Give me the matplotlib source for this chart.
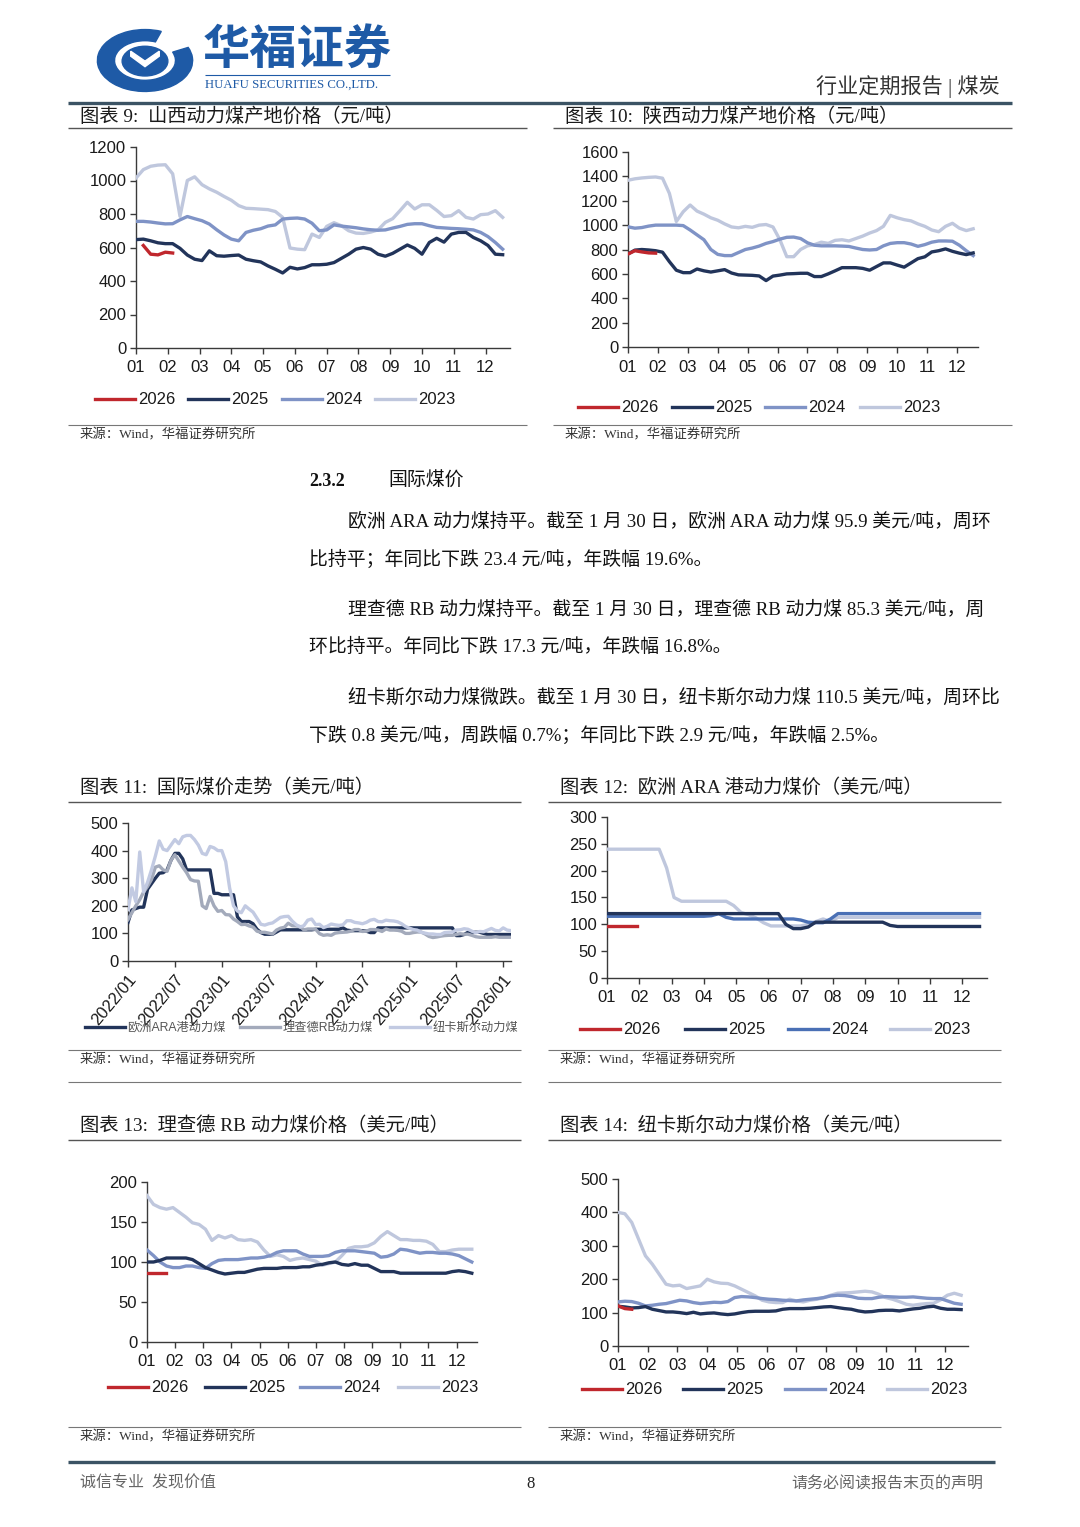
import numpy as np
import matplotlib
matplotlib.use('Agg')
import matplotlib.pyplot as plt
from matplotlib.legend import Legend
from matplotlib.patches import Wedge, Circle, Polygon
from matplotlib.lines import Line2D

W, H = 1080, 1527
plt.rcParams['font.family'] = ['Liberation Sans', 'Noto Sans CJK SC']
SERIF = ['Liberation Serif', 'Noto Sans CJK SC']
CJK = ['Noto Sans CJK SC', 'Liberation Sans']

# ---------------- data ----------------
MONTHS = ['01', '02', '03', '04', '05', '06', '07', '08', '09', '10', '11', '12']
YEARS = ['2026', '2025', '2024', '2023']

# Chart 9: Shanxi thermal coal pit-mouth price (weekly, CNY/t)
sx_2026 = [612, 560, 556, 572, 567]
sx_2025 = [647, 650, 640, 628, 623, 623, 595, 555, 530, 522, 580, 551, 548, 552, 555, 530, 521, 514, 490, 470,
           448, 482, 472, 480, 497, 497, 500, 510, 535, 560, 590, 600, 590, 560, 548, 565, 590, 615, 595, 560,
           630, 655, 632, 680, 690, 690, 660, 640, 612, 560, 557]
sx_2024 = [756, 756, 752, 746, 741, 742, 765, 785, 772, 760, 740, 706, 675, 650, 640, 690, 703, 712, 728, 735,
           770, 774, 776, 770, 745, 700, 705, 735, 728, 723, 718, 711, 706, 703, 705, 716, 726, 738, 742, 742,
           730, 720, 717, 714, 712, 709, 705, 690, 665, 630, 590]
sx_2023 = [1015, 1065, 1085, 1092, 1094, 1040, 786, 1000, 1022, 975, 950, 930, 905, 882, 850, 834, 832, 829, 826, 815,
           780, 597, 590, 587, 680, 660, 726, 748, 730, 700, 686, 684, 692, 705, 750, 772, 820, 870, 830, 855,
           855, 822, 785, 790, 820, 780, 770, 796, 800, 820, 780]

# Chart 10: Shaanxi thermal coal pit-mouth price
shx_2026 = [763, 790, 780, 772, 770]
shx_2025 = [763, 795, 800, 796, 790, 778, 700, 630, 610, 610, 640, 625, 615, 625, 635, 607, 592, 590, 588, 583,
            545, 582, 590, 600, 602, 605, 605, 578, 578, 600, 625, 651, 651, 651, 645, 630, 660, 690, 690, 672,
            655, 690, 725, 740, 780, 790, 805, 785, 770, 758, 772]
shx_2024 = [986, 975, 980, 992, 1000, 1000, 1000, 1000, 996, 960, 920, 880, 800, 760, 750, 750, 775, 800, 812, 828,
            850, 865, 885, 900, 902, 890, 855, 835, 830, 830, 830, 828, 825, 812, 800, 796, 800, 830, 850, 856,
            856, 845, 826, 840, 860, 870, 870, 868, 835, 790, 750]
shx_2023 = [1368, 1380, 1387, 1392, 1395, 1385, 1260, 1030, 1110, 1165, 1115, 1090, 1060, 1040, 1010, 985, 978, 990,
            982, 1000, 1005, 985, 880, 741, 741, 800, 830, 840, 860, 850, 875, 880, 870, 890, 910, 935, 955, 990,
            1080, 1060, 1045, 1035, 1010, 990, 960, 946, 990, 1015, 975, 955, 970]

# Chart 11: international coal prices, semi-monthly from 2022/01 (USD/t)
INTL_TICKS = ['2022/01', '2022/07', '2023/01', '2023/07', '2024/01', '2024/07', '2025/01', '2025/07', '2026/01']
INTL_NAMES = ['欧洲ARA港动力煤', '理查德RB动力煤', '纽卡斯尔动力煤']
ara = ([140, 185, 190, 195, 195, 260, 280, 300, 318, 320, 330, 365, 390, 390, 370, 330, 330, 330, 330, 330, 330, 330, 245, 245]
       + [240, 240, 240, 240, 160, 143, 143, 143, 135, 115, 103, 97, 97, 97, 105, 113, 113, 113, 113, 113, 113, 113, 113, 113]
       + [115, 115, 115, 115, 115, 115, 115, 120, 112, 110, 110, 110, 110, 108, 103, 103, 120, 120, 120, 120, 120, 120, 120, 120]
       + [120, 120, 120, 120, 120, 120, 120, 120, 120, 120, 120, 120, 92, 92, 96, 104, 104, 104, 104, 100, 96, 96, 96, 96]
       + [96, 96, 96])
rb = ([150, 175, 200, 222, 250, 270, 295, 340, 345, 330, 325, 365, 385, 362, 340, 320, 295, 290, 289, 200, 190, 234, 200, 180]
      + [183, 168, 167, 152, 143, 132, 133, 127, 123, 108, 104, 104, 101, 98, 112, 119, 122, 137, 128, 127, 125, 113, 116, 116]
      + [115, 99, 93, 95, 93, 101, 103, 104, 105, 108, 114, 114, 107, 108, 114, 114, 112, 107, 116, 112, 112, 111, 108, 100]
      + [100, 103, 105, 105, 98, 89, 85, 87, 90, 92, 93, 93, 96, 99, 97, 97, 93, 88, 86, 86, 86, 86, 88, 86]
      + [86, 86, 86])
ncs = ([186, 265, 215, 395, 250, 285, 330, 380, 435, 405, 400, 420, 440, 425, 450, 455, 455, 440, 420, 390, 385, 415, 410, 400]
       + [400, 360, 265, 200, 181, 175, 200, 188, 177, 155, 133, 130, 135, 138, 148, 158, 161, 162, 145, 132, 123, 128, 148, 152]
       + [132, 133, 121, 126, 134, 131, 129, 131, 146, 146, 140, 138, 135, 140, 148, 151, 143, 142, 148, 146, 145, 142, 135, 125]
       + [119, 114, 112, 104, 101, 98, 98, 96, 96, 103, 104, 105, 112, 113, 117, 115, 108, 102, 107, 106, 112, 118, 111, 109]
       + [120, 112, 110])

# Chart 12: ARA (weekly)
ara_2026 = [96] * 5
ara_2025 = [120] * 24 + [100, 92, 92, 95] + [104] * 10 + [98] + [96] * 12
ara_2024 = [115] * 14 + [116, 120, 113] + [110] * 9 + [108, 104, 103, 103, 110] + [120] * 20
ara_2023 = [240] * 8 + [205, 150] + [143] * 7 + [135, 122, 118, 112, 103] + [97] * 5 + [100, 105, 110, 105] + [113] * 20

# Chart 13: Richards Bay (weekly)
rb_2026 = [86, 86, 86, 86]
rb_2025 = [100, 100, 102, 105, 105, 105, 105, 103, 98, 93, 90, 87, 85, 86, 87, 87, 89, 91, 92, 92,
           92, 93, 93, 93, 94, 94, 96, 97, 99, 100, 97, 96, 98, 96, 96, 92, 88, 88, 88, 86,
           86, 86, 86, 86, 86, 86, 86, 88, 89, 88, 86]
rb_2024 = [115, 108, 100, 95, 93, 93, 95, 95, 93, 92, 98, 102, 103, 103, 103, 104, 105, 105, 106, 108,
           112, 114, 114, 114, 110, 107, 107, 107, 108, 112, 114, 114, 114, 113, 112, 111, 106, 107, 110, 116,
           115, 113, 111, 112, 112, 111, 111, 110, 108, 104, 100]
rb_2023 = [183, 172, 168, 166, 168, 162, 156, 149, 147, 141, 127, 133, 130, 133, 128, 127, 128, 125, 115, 107,
           109, 107, 102, 104, 105, 103, 101, 96, 98, 100, 108, 117, 119, 119, 120, 124, 132, 138, 133, 128,
           128, 127, 127, 126, 122, 113, 113, 115, 116, 116, 116]

# Chart 14: Newcastle (weekly)
nc_2026 = [120, 112, 110]
nc_2025 = [119, 117, 114, 115, 118, 110, 106, 102, 102, 100, 97, 101, 96, 98, 99, 96, 94, 96, 100, 103,
           104, 104, 104, 105, 110, 112, 112, 112, 113, 115, 117, 118, 115, 112, 110, 105, 102, 103, 106, 107,
           107, 105, 108, 111, 113, 117, 119, 113, 110, 110, 109]
nc_2024 = [132, 134, 133, 128, 120, 122, 125, 127, 132, 137, 135, 130, 127, 129, 131, 130, 133, 145, 148, 147,
           145, 142, 140, 139, 137, 136, 135, 138, 140, 142, 145, 150, 152, 151, 148, 143, 142, 142, 146, 148,
           147, 146, 146, 147, 145, 143, 142, 142, 135, 128, 125]
nc_2023 = [400, 396, 370, 320, 270, 245, 215, 185, 180, 182, 172, 176, 180, 200, 192, 188, 187, 180, 170, 160,
           150, 137, 132, 130, 130, 140, 135, 132, 137, 140, 145, 152, 158, 159, 160, 162, 164, 162, 155, 145,
           140, 133, 125, 122, 125, 127, 128, 138, 152, 158, 152]

# ---------------- styles ----------------
C26, C25, C24, C23 = '#C0272D', '#22345A', '#7F93C6', '#BFC7DD'
C24B = '#4A70B5'
LW = 2.4
TICKFS = 12
LEGFS = 12

fig = plt.figure(figsize=(W / 100, H / 100), dpi=100)


def fx(x):
    return x / W


def fy(y):
    return 1 - y / H


def px_axes(l, t, r, b):
    return fig.add_axes([l / W, 1 - b / H, (r - l) / W, (b - t) / H])


def hline(x0, x1, y, lw, color):
    fig.add_artist(Line2D([fx(x0), fx(x1)], [fy(y), fy(y)], transform=fig.transFigure,
                          lw=lw, color=color, solid_capstyle='butt'))


def ftext(x, y, s, **kw):
    kw.setdefault('va', 'center')
    fig.text(fx(x), fy(y), s, **kw)


def style(ax, ymax, ystep, xmax):
    for s in ['top', 'right']:
        ax.spines[s].set_visible(False)
    for s in ['left', 'bottom']:
        ax.spines[s].set_color('#3a3a3a')
        ax.spines[s].set_linewidth(1.0)
    ax.set_ylim(0, ymax)
    ax.set_yticks(np.arange(0, ymax + 1, ystep))
    ax.set_xlim(0, xmax)
    ax.tick_params(direction='out', length=4, width=1, color='#3a3a3a',
                   labelsize=TICKFS, labelcolor='#1a1a1a', pad=3)
    ax.patch.set_alpha(0)


def add_leg(ax, handle, label, x, y, fs=LEGFS, hl_px=40, color='#1a1a1a', family=None):
    prop = {'size': fs}
    if family:
        prop['family'] = family
    fs_px = fs * 100 / 72
    leg = Legend(ax, [handle], [label], loc='center left', bbox_to_anchor=(fx(x), fy(y)),
                 bbox_transform=fig.transFigure, frameon=False, borderpad=0, borderaxespad=0,
                 handlelength=hl_px / fs_px, handletextpad=0.2, prop=prop)
    for t in leg.get_texts():
        t.set_color(color)
    ax.add_artist(leg)


def seasonal(box, series, ymax, ystep, xmax, leg_y, leg_x, c24=C24, start26=0):
    ax = px_axes(*box)
    cols = [C26, C25, c24, C23]
    lines = {}
    for name, vals, col in reversed(list(zip(YEARS, series, cols))):
        st = start26 if name == '2026' else 0
        x = np.arange(st, st + len(vals))
        ln, = ax.plot(x, vals, color=col, lw=LW, solid_joinstyle='round', zorder=3)
        lines[name] = ln
    style(ax, ymax, ystep, xmax)
    ax.set_xticks(np.arange(12) * 52 / 12)
    ax.set_xticklabels(MONTHS)
    ax.tick_params(axis='x', pad=5)
    for name, lx in zip(YEARS, leg_x):
        add_leg(ax, lines[name], name, lx, leg_y)
    return ax


# ---------------- header ----------------
BLUE = '#1E5AA6'
axl = px_axes(95, 28, 195, 93)
axl.set_xlim(-1.05, 1.05)
axl.set_ylim(-1.05, 1.05)
axl.axis('off')
axl.add_patch(Wedge((0, 0), 1.0, 70, 385, width=0.36, color=BLUE))
axl.add_patch(Circle((0, -0.02), 0.48, color=BLUE))
axl.add_patch(Polygon([(-0.3, 0.14), (0, -0.2), (0.3, 0.14), (0.3, 0.3), (0, -0.02), (-0.3, 0.3)],
                      closed=True, color='white'))
ftext(203, 50, '华福证券', fontsize=34, fontweight='bold', color=BLUE, family=CJK)
hline(205, 390, 75, 0.8, BLUE)
ftext(205, 85, 'HUAFU SECURITIES CO.,LTD.', fontsize=9.2, color=BLUE, family=['Liberation Serif'])
ftext(1000, 87, '行业定期报告 | 煤炭', fontsize=15.2, color='#333333', ha='right', family=SERIF)
hline(68, 1012, 103, 2.4, '#3B5364')

TCOL = '#1a1a1a'
LINEC = '#555555'
TITLEFS = 13.9
SRCFS = 9.6

# ---------------- row 1 ----------------
ftext(80, 116, '图表 9:  山西动力煤产地价格（元/吨）', fontsize=TITLEFS, color=TCOL, family=SERIF)
ftext(565, 116, '图表 10:  陕西动力煤产地价格（元/吨）', fontsize=TITLEFS, color=TCOL, family=SERIF)
hline(68, 527, 128, 1.0, LINEC)
hline(553, 1012, 128, 1.0, LINEC)

seasonal((136, 147, 510, 348), [sx_2026, sx_2025, sx_2024, sx_2023], 1200, 200, 51.0,
         400, [95, 188, 282, 375], start26=1)
seasonal((628, 152, 978, 347), [shx_2026, shx_2025, shx_2024, shx_2023], 1600, 200, 50.7,
         408, [578, 672, 765, 860])

hline(68, 527, 425, 0.8, '#777777')
hline(553, 1012, 425, 0.8, '#777777')
ftext(80, 435, '来源：Wind，华福证券研究所', fontsize=SRCFS, color='#333333', family=SERIF)
ftext(565, 435, '来源：Wind，华福证券研究所', fontsize=SRCFS, color='#333333', family=SERIF)

# ---------------- text section ----------------
BODY = dict(fontsize=13.6, color='#111111', family=SERIF)
ftext(309, 481, '2.3.2', fontsize=13, fontweight='bold', color='#111111', family=['Liberation Serif'])
ftext(388, 481, '国际煤价', **BODY)
ftext(348, 522, '欧洲 ARA 动力煤持平。截至 1 月 30 日，欧洲 ARA 动力煤 95.9 美元/吨，周环', **BODY)
ftext(309, 559, '比持平；年同比下跌 23.4 元/吨，年跌幅 19.6%。', **BODY)
ftext(348, 610, '理查德 RB 动力煤持平。截至 1 月 30 日，理查德 RB 动力煤 85.3 美元/吨，周', **BODY)
ftext(309, 647, '环比持平。年同比下跌 17.3 元/吨，年跌幅 16.8%。', **BODY)
ftext(348, 698, '纽卡斯尔动力煤微跌。截至 1 月 30 日，纽卡斯尔动力煤 110.5 美元/吨，周环比', **BODY)
ftext(309, 736, '下跌 0.8 美元/吨，周跌幅 0.7%；年同比下跌 2.9 元/吨，年跌幅 2.5%。', **BODY)

# ---------------- row 2 ----------------
ftext(80, 787, '图表 11:  国际煤价走势（美元/吨）', fontsize=TITLEFS, color=TCOL, family=SERIF)
ftext(560, 787, '图表 12:  欧洲 ARA 港动力煤价（美元/吨）', fontsize=TITLEFS, color=TCOL, family=SERIF)
hline(68, 521, 802, 1.0, LINEC)
hline(548, 1001, 802, 1.0, LINEC)

ax11 = px_axes(128, 823, 511, 961)
l_ara, = ax11.plot(np.arange(len(ara)) * 0.5, ara, color='#22345A', lw=LW, zorder=3)
l_rb, = ax11.plot(np.arange(len(rb)) * 0.5, rb, color='#A3AABB', lw=LW, zorder=3)
l_nc, = ax11.plot(np.arange(len(ncs)) * 0.5, ncs, color='#C2CAE2', lw=LW, zorder=3)
style(ax11, 500, 100, 49)
ax11.set_xticks(np.arange(0, 49, 6))
ax11.set_xticklabels(INTL_TICKS, rotation=50, ha='right', rotation_mode='anchor')
ax11.tick_params(axis='x', pad=4)
for h, lab, lx in zip([l_ara, l_rb, l_nc], INTL_NAMES, [85, 240, 390]):
    add_leg(ax11, h, lab, lx, 1028, fs=8.8, color='#555555')

seasonal((607, 817, 987, 978), [ara_2026, ara_2025, ara_2024, ara_2023], 300, 50, 51.0,
         1030, [580, 685, 788, 890], c24=C24B)

hline(68, 521, 1050, 0.8, '#777777')
hline(548, 1001, 1050, 0.8, '#777777')
ftext(80, 1060, '来源：Wind，华福证券研究所', fontsize=SRCFS, color='#333333', family=SERIF)
ftext(560, 1060, '来源：Wind，华福证券研究所', fontsize=SRCFS, color='#333333', family=SERIF)
hline(68, 521, 1082, 0.8, '#777777')
hline(548, 1001, 1082, 0.8, '#777777')

# ---------------- row 3 ----------------
ftext(80, 1125, '图表 13:  理查德 RB 动力煤价格（美元/吨）', fontsize=TITLEFS, color=TCOL, family=SERIF)
ftext(560, 1125, '图表 14:  纽卡斯尔动力煤价格（美元/吨）', fontsize=TITLEFS, color=TCOL, family=SERIF)
hline(68, 521, 1140, 1.0, LINEC)
hline(548, 1001, 1140, 1.0, LINEC)

seasonal((147, 1182, 477, 1342), [rb_2026, rb_2025, rb_2024, rb_2023], 200, 50, 50.8,
         1388, [108, 205, 300, 398])
seasonal((618, 1179, 968, 1346), [nc_2026, nc_2025, nc_2024, nc_2023], 500, 100, 51.0,
         1390, [582, 683, 785, 887])

hline(68, 521, 1427, 0.8, '#777777')
hline(548, 1001, 1427, 0.8, '#777777')
ftext(80, 1437, '来源：Wind，华福证券研究所', fontsize=SRCFS, color='#333333', family=SERIF)
ftext(560, 1437, '来源：Wind，华福证券研究所', fontsize=SRCFS, color='#333333', family=SERIF)

# ---------------- footer ----------------
hline(68, 995, 1462, 2.4, '#3B5364')
ftext(80, 1484, '诚信专业  发现价值', fontsize=11.5, color='#666666', family=SERIF)
ftext(531, 1484, '8', fontsize=12, color='#222222', ha='center', family=['Liberation Serif'])
ftext(983, 1484, '请务必阅读报告末页的声明', fontsize=11.5, color='#666666', ha='right', family=SERIF)

fig.savefig('out.png', dpi=100, facecolor='white')
